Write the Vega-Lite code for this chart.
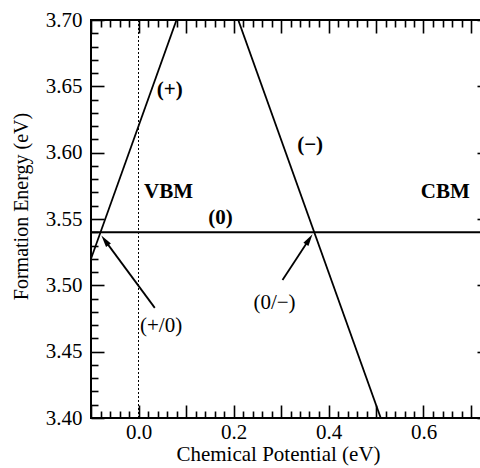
{
  "$schema": "https://vega.github.io/schema/vega-lite/v6.json",
  "autosize": "none",
  "padding": {"left": 91, "top": 20, "right": 0, "bottom": 50},
  "width": 399,
  "height": 398,
  "config": {
    "view": {"stroke": "black", "strokeWidth": 2},
    "axis": {
      "domain": false, "grid": false, "tickColor": "black", "tickWidth": 1.6,
      "labelFont": "Liberation Serif", "labelFontSize": 21, "labelColor": "black",
      "titleFont": "Liberation Serif", "titleFontSize": 21, "titleFontWeight": "normal", "titleColor": "black"
    }
  },
  "datasets": {
    "lines": [
      {"s": "plus", "x": -0.1, "y": 3.52}, {"s": "plus", "x": 0.08, "y": 3.70},
      {"s": "minus", "x": 0.21, "y": 3.70}, {"s": "minus", "x": 0.51, "y": 3.40},
      {"s": "neutral", "x": -0.1, "y": 3.54}, {"s": "neutral", "x": 0.74, "y": 3.54}
    ],
    "vbm": [{"x": 0, "y": 3.40}, {"x": 0, "y": 3.70}],
    "boldlabels": [
      {"x": 0.0659, "y": 3.643, "t": "(+)"},
      {"x": 0.0632, "y": 3.5658, "t": "VBM"},
      {"x": 0.6459, "y": 3.5656, "t": "CBM"},
      {"x": 0.1728, "y": 3.5462, "t": "(0)"},
      {"x": 0.3613, "y": 3.6013, "t": "(−)"}
    ],
    "labels": [
      {"x": 0.0476, "y": 3.4648, "t": "(+/0)"},
      {"x": 0.2863, "y": 3.4818, "t": "(0/−)"}
    ],
    "arrows": [
      {"a": "a1", "x": 0.0343, "y": 3.483}, {"a": "a1", "x": -0.0707, "y": 3.5339},
      {"a": "a2", "x": 0.3032, "y": 3.504}, {"a": "a2", "x": 0.3594, "y": 3.5347}
    ],
    "head1": [{"x": -0.0707, "y": 3.5339}],
    "head2": [{"x": 0.3594, "y": 3.5347}]
  },
  "resolve": {"axis": {"x": "independent", "y": "independent"}},
  "layer": [
    {
      "data": {"name": "lines"},
      "mark": {"type": "line", "color": "black", "strokeWidth": 1.8, "clip": true},
      "encoding": {
        "x": {"field": "x", "type": "quantitative",
          "scale": {"domain": [-0.1, 0.74], "nice": false, "zero": false},
          "axis": {"orient": "bottom", "title": "Chemical Potential (eV)",
            "values": [-0.1, 0, 0.1, 0.2, 0.3, 0.4, 0.5, 0.6, 0.7],
            "labelExpr": "abs(round(datum.value*10)) % 2 == 0 ? format(datum.value, '.1f') : ''",
            "tickSize": -13, "labelPadding": 33, "labelBaseline": "alphabetic",
            "titleX": 187, "titleY": 42, "titleBaseline": "alphabetic", "titleAnchor": null, "titleAlign": "center"}},
        "y": {"field": "y", "type": "quantitative",
          "scale": {"domain": [3.40, 3.70], "nice": false, "zero": false},
          "axis": {"orient": "left", "title": "Formation Energy (eV)",
            "values": [3.40, 3.45, 3.50, 3.55, 3.60, 3.65, 3.70], "format": ".2f",
            "tickSize": -13, "labelPadding": 22, "titleFontSize": 20,
            "titleX": -64, "titleY": 186, "titleBaseline": "alphabetic", "titleAngle": -90, "titleAlign": "center", "titleAnchor": null}},
        "detail": {"field": "s"}
      }
    },
    {
      "data": {"name": "vbm"},
      "mark": {"type": "line", "color": "black", "strokeWidth": 1, "strokeDash": [2, 2]},
      "encoding": {
        "x": {"field": "x", "type": "quantitative",
          "scale": {"domain": [-0.1, 0.74], "nice": false, "zero": false},
          "axis": {"orient": "bottom", "title": null, "labels": false, "tickSize": -7,
            "values": [-0.08, -0.06, -0.04, -0.02, 0.02, 0.04, 0.06, 0.08, 0.12, 0.14, 0.16, 0.18, 0.22, 0.24, 0.26, 0.28, 0.32, 0.34, 0.36, 0.38, 0.42, 0.44, 0.46, 0.48, 0.52, 0.54, 0.56, 0.58, 0.62, 0.64, 0.66, 0.68, 0.72, 0.74]}},
        "y": {"field": "y", "type": "quantitative",
          "scale": {"domain": [3.40, 3.70], "nice": false, "zero": false},
          "axis": {"orient": "left", "title": null, "labels": false, "tickSize": -7,
            "values": [3.41, 3.42, 3.43, 3.44, 3.46, 3.47, 3.48, 3.49, 3.51, 3.52, 3.53, 3.54, 3.56, 3.57, 3.58, 3.59, 3.61, 3.62, 3.63, 3.64, 3.66, 3.67, 3.68, 3.69]}}
      }
    },
    {
      "data": {"name": "boldlabels"},
      "mark": {"type": "text", "font": "Liberation Serif", "fontSize": 21, "fontWeight": "bold", "align": "center", "baseline": "alphabetic", "color": "black"},
      "encoding": {
        "x": {"field": "x", "type": "quantitative",
          "scale": {"domain": [-0.1, 0.74], "nice": false, "zero": false},
          "axis": {"orient": "top", "title": null, "labels": false, "tickSize": -13,
            "values": [-0.1, 0, 0.1, 0.2, 0.3, 0.4, 0.5, 0.6, 0.7]}},
        "y": {"field": "y", "type": "quantitative",
          "scale": {"domain": [3.40, 3.70], "nice": false, "zero": false},
          "axis": {"orient": "right", "title": null, "labels": false, "tickSize": -13,
            "values": [3.40, 3.45, 3.50, 3.55, 3.60, 3.65, 3.70]}},
        "text": {"field": "t"}
      }
    },
    {
      "data": {"name": "arrows"},
      "mark": {"type": "line", "color": "black", "strokeWidth": 1.8},
      "encoding": {
        "x": {"field": "x", "type": "quantitative",
          "scale": {"domain": [-0.1, 0.74], "nice": false, "zero": false},
          "axis": {"orient": "top", "title": null, "labels": false, "tickSize": -7,
            "values": [-0.08, -0.06, -0.04, -0.02, 0.02, 0.04, 0.06, 0.08, 0.12, 0.14, 0.16, 0.18, 0.22, 0.24, 0.26, 0.28, 0.32, 0.34, 0.36, 0.38, 0.42, 0.44, 0.46, 0.48, 0.52, 0.54, 0.56, 0.58, 0.62, 0.64, 0.66, 0.68, 0.72, 0.74]}},
        "y": {"field": "y", "type": "quantitative",
          "scale": {"domain": [3.40, 3.70], "nice": false, "zero": false},
          "axis": {"orient": "right", "title": null, "labels": false, "tickSize": -7,
            "values": [3.41, 3.42, 3.43, 3.44, 3.46, 3.47, 3.48, 3.49, 3.51, 3.52, 3.53, 3.54, 3.56, 3.57, 3.58, 3.59, 3.61, 3.62, 3.63, 3.64, 3.66, 3.67, 3.68, 3.69]}},
        "detail": {"field": "a"}
      }
    },
    {
      "data": {"name": "labels"},
      "mark": {"type": "text", "font": "Liberation Serif", "fontSize": 21, "align": "center", "baseline": "alphabetic", "color": "black"},
      "encoding": {
        "x": {"field": "x", "type": "quantitative", "scale": {"domain": [-0.1, 0.74], "nice": false, "zero": false}, "axis": null},
        "y": {"field": "y", "type": "quantitative", "scale": {"domain": [3.40, 3.70], "nice": false, "zero": false}, "axis": null},
        "text": {"field": "t"}
      }
    },
    {
      "data": {"name": "head1"},
      "mark": {"type": "point", "shape": "M0,-1L0.5,1L-0.5,1Z", "size": 144, "filled": true, "color": "black", "opacity": 1, "angle": 323.6},
      "encoding": {
        "x": {"field": "x", "type": "quantitative", "scale": {"domain": [-0.1, 0.74], "nice": false, "zero": false}, "axis": null},
        "y": {"field": "y", "type": "quantitative", "scale": {"domain": [3.40, 3.70], "nice": false, "zero": false}, "axis": null}
      }
    },
    {
      "data": {"name": "head2"},
      "mark": {"type": "point", "shape": "M0,-1L0.5,1L-0.5,1Z", "size": 144, "filled": true, "color": "black", "opacity": 1, "angle": 33.3},
      "encoding": {
        "x": {"field": "x", "type": "quantitative", "scale": {"domain": [-0.1, 0.74], "nice": false, "zero": false}, "axis": null},
        "y": {"field": "y", "type": "quantitative", "scale": {"domain": [3.40, 3.70], "nice": false, "zero": false}, "axis": null}
      }
    }
  ]
}
